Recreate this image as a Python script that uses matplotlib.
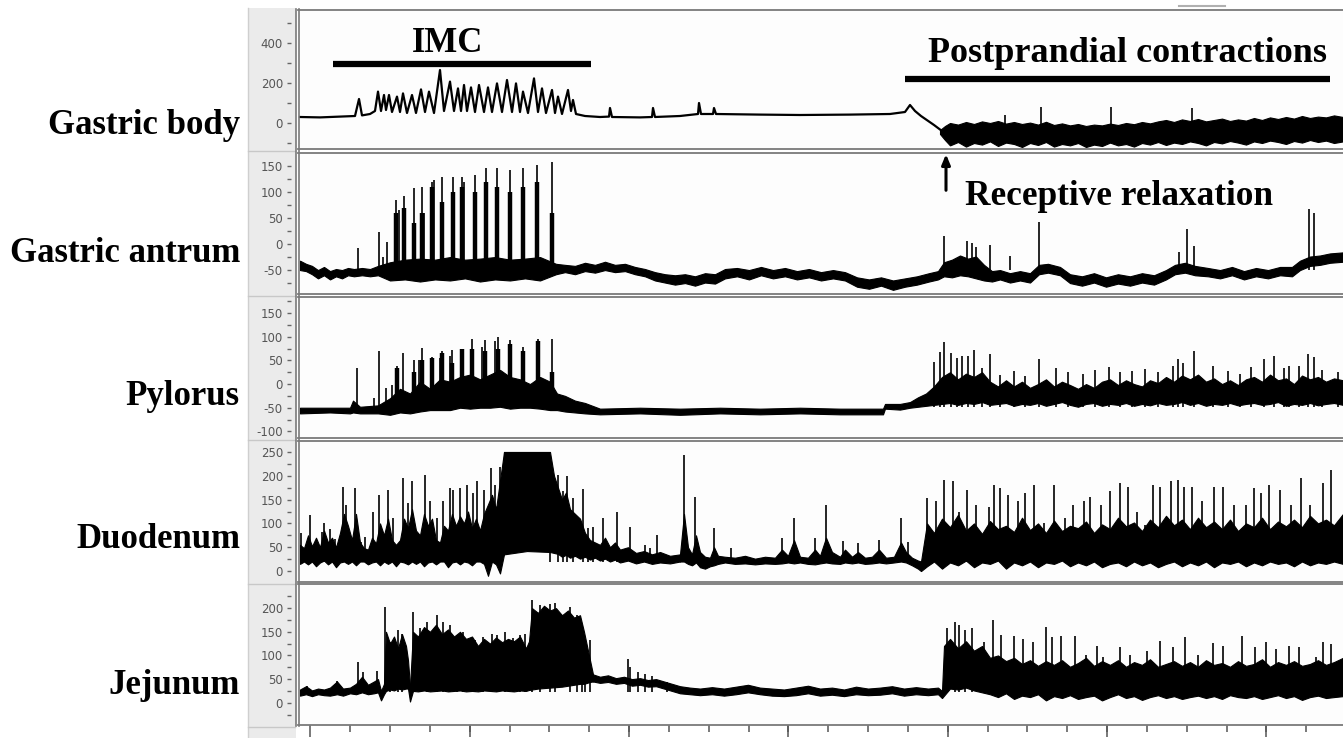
import numpy as np
import matplotlib.pyplot as plt
from matplotlib.lines import Line2D
from matplotlib.patches import Rectangle

plt.rcParams['font.family'] = 'DejaVu Sans'
plt.rcParams['axes.unicode_minus'] = False

W, H = 1343, 738

# ---------------- data (time in samples, amplitude in recorded units) ----------------
# Gastric body: IMC slow waves as a trace, postprandial activity as a noisy band
body_t = [300, 320, 340, 355, 359, 362, 370, 375, 378, 381, 384, 386, 389, 392, 397, 400, 403, 407, 412, 416,
          421, 425, 429, 434, 440, 444, 450, 454, 458, 461, 464, 467, 471, 475, 479, 484, 488, 492, 497, 502,
          507, 512, 516, 520, 523, 528, 534, 538, 542, 546, 552, 555, 558, 562, 568, 571, 573, 576, 585, 600,
          609, 610, 612, 640, 652, 653, 655, 680, 698, 699, 701, 713, 714, 716, 760, 800, 850, 890, 905, 910,
          915, 921, 934, 942]
body_v = [30, 28, 32, 35, 120, 38, 45, 60, 157, 60, 140, 65, 140, 55, 132, 55, 148, 50, 140, 50,
          168, 55, 157, 50, 265, 60, 207, 60, 173, 60, 190, 60, 178, 55, 190, 55, 178, 55, 198, 55,
          215, 55, 198, 55, 157, 50, 223, 55, 173, 50, 165, 50, 132, 45, 165, 60, 115, 45, 35, 30,
          32, 75, 30, 28, 30, 75, 30, 35, 45, 100, 45, 45, 75, 45, 42, 40, 42, 45, 55, 90,
          60, 35, -10, -40]
body_band_t = [940, 945, 950, 958, 966, 974, 982, 990, 998, 1006, 1014, 1022, 1030, 1038, 1046, 1054, 1062, 1070,
               1078, 1086, 1094, 1102, 1110, 1118, 1126, 1134, 1142, 1150, 1158, 1166, 1174, 1182, 1190, 1198, 1206,
               1214, 1222, 1230, 1238, 1246, 1254, 1262, 1270, 1278, 1286, 1294, 1302, 1310, 1318, 1326, 1334, 1343]
body_band_hi = [-35, -15, 0, -8, 5, -5, 8, 0, 10, -3, 5, -5, 2, -8, 6, -10, -2, -12,
                -5, -15, -8, -12, -3, -10, 0, -6, 5, -2, 8, 15, 5, 18, 10, 20, 8,
                15, 22, 10, 18, 12, 25, 15, 28, 20, 30, 22, 35, 25, 32, 28, 38, 30]
body_band_lo = [-55, -85, -112, -95, -118, -100, -108, -92, -115, -98, -105, -120, -100, -110, -95, -118, -105, -112,
                -100, -120, -108, -115, -98, -112, -105, -118, -100, -108, -95, -110, -98, -105, -92, -100, -112,
                -95, -102, -90, -98, -108, -92, -100, -88, -95, -105, -90, -98, -85, -95, -88, -100, -92]
body_spk_t = [1005, 1041, 1111, 1192]
body_spk_top = [40, 80, 80, 75]

# Gastric antrum
antrum_band_t = [300, 306, 312, 318, 324, 330, 336, 342, 348, 354, 362, 370, 378, 390, 405, 420, 435, 450, 465, 480,
                 495, 510, 525, 540, 556, 565, 575, 585, 595, 605, 615, 625, 635, 645, 655, 665, 675, 685, 695, 705,
                 715, 725, 737, 749, 761, 773, 785, 797, 809, 821, 833, 845, 857, 869, 881, 893, 905, 917, 929, 938,
                 944, 952, 960, 968, 976, 984, 992, 1000, 1010, 1020, 1030, 1039, 1048, 1060, 1070, 1082, 1094, 1106,
                 1118, 1130, 1142, 1154, 1166, 1175, 1185, 1195, 1208, 1220, 1232, 1244, 1256, 1268, 1280, 1292, 1300,
                 1310, 1320, 1330, 1343]
antrum_band_lo = [-50, -52, -58, -66, -60, -68, -62, -66, -60, -62, -60, -62, -60, -70, -68, -72, -68, -70, -66, -72,
                  -68, -70, -66, -70, -58, -54, -58, -52, -55, -50, -54, -52, -58, -62, -70, -74, -78, -75, -80, -74,
                  -76, -66, -62, -68, -60, -66, -62, -68, -64, -70, -66, -70, -82, -86, -80, -88, -82, -78, -72, -68,
                  -62, -64, -60, -62, -66, -70, -72, -68, -74, -70, -74, -58, -55, -60, -75, -80, -74, -82,
                  -76, -80, -74, -78, -68, -58, -55, -60, -62, -66, -60, -68, -62, -66, -60, -62, -50,
                  -42, -40, -36, -34]
antrum_band_hi = [-32, -38, -42, -50, -44, -52, -48, -50, -46, -48, -46, -48, -42, -35, -30, -28, -30, -25, -30, -28,
                  -25, -30, -28, -25, -38, -40, -42, -36, -40, -34, -40, -38, -44, -48, -54, -58, -60, -58, -62, -56,
                  -58, -48, -46, -50, -44, -50, -46, -52, -48, -54, -50, -54, -64, -68, -64, -70, -66, -62, -56, -52,
                  -35, -30, -22, -28, -24, -40, -52, -50, -56, -52, -56, -40, -38, -44, -58, -62, -56, -64,
                  -58, -62, -56, -60, -50, -40, -36, -42, -46, -50, -44, -52, -46, -50, -44, -44, -32,
                  -24, -22, -18, -16]
antrum_spk_t = [358, 379, 383, 387, 396, 399, 404, 414, 422, 424, 432, 434, 442, 453, 462, 464, 475, 486, 497, 510,
                523, 537, 552, 944, 967, 972, 976, 990, 1010, 1039, 1179, 1187, 1194, 1309, 1314]
antrum_spk_top = [-8, 24, -24, 3, 85, 66, 93, 107, 110, 60, 120, 124, 128, 128, 128, 120, 133, 146, 146, 142,
                  146, 152, 158, 15, 5, 2, -5, -2, -23, 43, -16, 28, -4, 67, 59]
antrum_burst_t = [396, 404, 414, 422, 432, 442, 453, 462, 475, 486, 497, 510, 523, 537, 552]
antrum_burst_top = [60, 70, 40, 60, 110, 80, 100, 110, 100, 120, 110, 100, 110, 120, 60]

# Pylorus
pyl_band_t = [300, 330, 350, 353, 360, 378, 390, 400, 410, 420, 430, 440, 450, 460, 470, 480, 490, 500, 510, 520,
              530, 540, 550, 557, 565, 575, 585, 600, 640, 680, 720, 760, 800, 840, 883, 885, 900, 910, 918, 926,
              934, 942, 950, 958, 966, 974, 982, 990, 998, 1006, 1014, 1022, 1030, 1038, 1046, 1054, 1062, 1070, 1078,
              1086, 1094, 1102, 1110, 1118, 1126, 1134, 1142, 1150, 1158, 1166, 1174, 1182, 1190, 1198, 1206, 1214,
              1222, 1230, 1238, 1246, 1254, 1262, 1270, 1278, 1286, 1294, 1302, 1310, 1318, 1326, 1334, 1343]
pyl_band_lo = [-62, -60, -62, -60, -62, -62, -65, -60, -62, -58, -55, -55, -55, -50, -52, -50, -50, -48, -52, -50,
               -50, -52, -55, -55, -58, -60, -62, -64, -62, -65, -62, -64, -62, -64, -64, -52, -54, -50, -48, -46,
               -44, -42, -40, -44, -40, -42, -38, -44, -42, -40, -46, -42, -44, -40, -46, -42, -38, -44, -48,
               -42, -40, -46, -42, -44, -40, -46, -42, -45, -40, -44, -42, -38, -44, -40, -46, -42,
               -44, -40, -45, -42, -40, -44, -42, -38, -46, -42, -44, -40, -45, -42, -40, -44]
pyl_band_hi = [-50, -50, -50, -35, -48, -45, -30, -10, -20, 5, -10, 10, 5, 15, 20, 10, 20, 30, 15, 10,
               0, 15, 5, -20, -25, -35, -40, -52, -50, -52, -50, -52, -50, -52, -52, -42, -42, -38, -28, -20,
               -5, 15, 25, 10, 22, 15, 25, 5, -5, 8, -5, 5, -8, 0, 10, -5, 5, -2, -10,
               0, -8, 5, 10, -2, 8, 0, -5, 8, 2, 15, 5, 18, 10, 20, 5, 12,
               0, 8, -2, 10, 15, 5, 20, 8, 12, 0, 18, 10, 15, 5, 12, 8]
pyl_spk_t = [357, 374, 379, 386, 392, 397, 403, 414, 419, 422, 432, 440, 442, 450, 452, 462, 472, 482, 485, 495,
             498, 510, 523, 538, 552, 934, 940, 944, 951, 957, 962, 968, 974, 982, 990, 1000, 1014, 1025, 1039, 1056,
             1068, 1083, 1095, 1109, 1120, 1132, 1145, 1158, 1173, 1178, 1183, 1194, 1213, 1228, 1240, 1251, 1264,
             1274, 1284, 1289, 1299, 1308, 1314, 1322, 1338]
pyl_spk_top = [33, -29, 69, -9, -1, 39, 65, 51, 50, 77, 58, 55, 69, 60, 72, 75, 95, 79, 93, 90,
               100, 93, 79, 96, 96, 46, 67, 88, 66, 56, 59, 60, 72, 33, 64, 20, 28, 18, 54, 34,
               25, 22, 30, 36, 25, 28, 32, 25, 38, 54, 45, 69, 39, 28, 22, 36, 54,
               60, 35, 39, 39, 64, 57, 30, 25]
pyl_burst_t = [397, 414, 422, 432, 442, 452, 462, 472, 485, 498, 510, 523, 538, 552]
pyl_burst_top = [35, 25, 50, 55, 65, 45, 75, 75, 70, 75, 85, 70, 90, 25]

# Duodenum: IMC bursts, saturated phase, quiet phase, postprandial phase
duo_imc_t = [300, 304, 308, 312, 316, 320, 324, 328, 332, 336, 340, 344, 348, 352, 356, 360, 364, 368, 372, 376,
             380, 384, 388, 392, 396, 400, 404, 408, 412, 416, 420, 424, 428, 432, 436, 440, 444, 448, 452, 456,
             460, 464, 468, 472, 476, 480, 484, 488, 492, 496, 500, 504]
duo_imc_hi = [55, 48, 75, 52, 70, 50, 85, 60, 70, 50, 80, 120, 95, 65, 120, 60, 48, 45, 70, 58,
              100, 75, 110, 65, 55, 65, 110, 90, 130, 85, 75, 120, 95, 110, 65, 60, 95, 85, 120, 95,
              115, 100, 125, 90, 110, 85, 120, 140, 160, 130, 190, 250]
duo_imc_lo = [15, 20, 14, 20, 10, 18, 22, 14, 20, 8, 18, 20, 15, 20, 12, 20, 20, 14, 18, 20,
              12, 20, 15, 20, 10, 20, 18, 14, 20, 15, 20, 10, 18, 20, 14, 20, 20, 8, 18, 20,
              14, 20, 18, 12, 20, 20, 15, -10, 20, 14, -5, 35]
duo_sat_t = [504, 527, 550, 554, 558, 562, 566, 570, 575, 580, 585, 590, 595, 600, 605, 610, 615, 620, 628, 636,
             644, 652, 660, 670, 680]
duo_sat_hi = [250, 250, 250, 200, 175, 150, 165, 130, 120, 110, 80, 65, 60, 55, 70, 50, 60, 45, 50, 38,
              42, 35, 40, 32, 35]
duo_sat_lo = [35, 42, 40, 38, 36, 30, 34, 28, 32, 26, 30, 24, 28, 22, 26, 20, 24, 18, 22, 16,
              20, 15, 18, 16, 20]
duo_quiet_t = [680, 684, 688, 692, 696, 700, 705, 710, 714, 718, 725, 735, 745, 755, 765, 775, 782, 788, 794, 800,
               808, 815, 820, 826, 832, 840, 845, 852, 858, 865, 872, 879, 886, 894, 901, 906, 912, 918, 921]
duo_quiet_hi = [35, 120, 50, 35, 75, 40, 30, 28, 50, 32, 30, 28, 32, 26, 30, 28, 45, 32, 65, 30,
                28, 45, 32, 70, 40, 30, 45, 30, 40, 28, 30, 45, 28, 30, 60, 40, 28, 22, 20]
duo_quiet_lo = [20, 20, 15, 12, 18, 8, 5, 10, 12, 15, 18, 15, 16, 14, 16, 15, 16, 18, 16, 18,
                15, 14, 16, 18, 16, 15, 18, 16, 18, 15, 16, 18, 16, 18, 20, 18, 12, 5, 0]
duo_post_t = [921, 927, 934, 942, 950, 958, 966, 974, 982, 990, 998, 1006, 1014, 1022, 1030, 1038, 1046, 1054, 1062,
              1070, 1078, 1086, 1094, 1102, 1110, 1118, 1126, 1134, 1142, 1150, 1158, 1166, 1174, 1182, 1190, 1198,
              1206, 1214, 1222, 1230, 1238, 1246, 1254, 1262, 1270, 1278, 1286, 1294, 1302, 1310, 1318, 1326, 1334,
              1343]
duo_post_hi = [20, 100, 80, 110, 92, 118, 85, 100, 78, 105, 88, 95, 82, 112, 86, 100, 80, 106, 84,
               95, 90, 104, 80, 98, 88, 112, 94, 102, 84, 108, 92, 116, 96, 108, 88, 112,
               92, 104, 88, 108, 84, 100, 92, 112, 88, 104, 94, 108, 92, 116, 100, 108, 96,
               120]
duo_post_lo = [0, 10, 20, 5, 18, 12, 22, 8, 18, 15, 22, 5, 18, 12, 20, 8, 18, 15, 22,
               10, 18, 12, 20, 8, 15, 18, 10, 20, 12, 18, 8, 15, 20, 10, 18, 12,
               20, 8, 18, 15, 20, 10, 18, 12, 20, 15, 18, 10, 20, 12, 18, 15, 20,
               15]
duo_spk_t = [301, 310, 318, 322, 324, 330, 335, 342, 343, 346, 355, 361, 365, 373, 379, 388, 393, 403, 408, 412,
             425, 430, 437, 443, 450, 453, 460, 467, 473, 477, 484, 491, 495, 500, 550, 558, 563, 567, 573, 583,
             588, 593, 603, 617, 630, 645, 650, 657, 684, 695, 714, 731, 782, 794, 815, 826, 843, 858, 879, 901,
             908, 927, 936, 944, 953, 959, 967, 976, 989, 994, 1000, 1008, 1018, 1025, 1034, 1044, 1054, 1065, 1073, 1084,
             1090, 1101, 1110, 1120, 1128, 1137, 1145, 1153, 1160, 1171, 1178, 1184, 1192, 1202, 1214, 1223, 1234, 1246,
             1254, 1261, 1269, 1280, 1291, 1301, 1310, 1323, 1331]
duo_spk_top = [79, 118, 55, 83, 100, 89, 68, 86, 177, 139, 174, 61, 72, 125, 160, 170, 111, 195, 142, 188,
               202, 146, 111, 146, 175, 170, 174, 180, 163, 190, 170, 216, 180, 219, 222, 202, 167, 199, 153, 173,
               90, 93, 111, 125, 93, 55, 48, 76, 244, 156, 90, 48, 69, 111, 69, 139, 63, 58, 65, 111,
               62, 153, 146, 191, 188, 125, 170, 139, 135, 180, 174, 160, 146, 163, 180, 100, 180, 111, 139, 146,
               156, 139, 167, 184, 177, 125, 97, 180, 177, 188, 191, 177, 177, 146, 177, 177, 139, 139,
               174, 163, 180, 170, 139, 195, 139, 184, 212]

# Jejunum: early bursts, IMC block, quiet phase, postprandial phase
jej_early_t = [300, 306, 312, 318, 324, 330, 337, 343, 350, 356, 362, 368, 374, 378, 381, 384, 386, 390, 394, 398,
               402, 406, 408, 410]
jej_early_hi = [28, 35, 26, 30, 28, 32, 45, 30, 32, 40, 55, 38, 45, 50, 25, 40, 150, 125, 140, 115,
                145, 120, 90, 35]
jej_early_lo = [15, 18, 14, 18, 16, 15, 18, 15, 20, 18, 22, 18, 20, 22, 5, 18, 25, 28, 26, 30,
                28, 30, 30, 3]
jej_imc_t = [410, 413, 418, 424, 430, 436, 442, 448, 454, 460, 466, 472, 478, 484, 490, 496, 502, 508, 514, 520,
             526, 529, 532, 538, 544, 550, 556, 562, 568, 574, 580, 584, 587, 590, 593]
jej_imc_hi = [35, 150, 140, 160, 150, 165, 145, 155, 140, 150, 135, 140, 120, 135, 125, 138, 128, 135, 130, 140,
              115, 130, 200, 190, 205, 195, 200, 185, 195, 180, 185, 150, 120, 90, 60]
jej_imc_lo = [3, 25, 24, 26, 24, 25, 26, 24, 25, 26, 24, 25, 24, 26, 25, 24, 26, 25, 24, 26,
              25, 27, 28, 30, 31, 32, 33, 34, 36, 38, 40, 40, 42, 44, 45]
jej_quiet_t = [593, 600, 608, 616, 624, 632, 640, 648, 656, 664, 672, 680, 690, 700, 712, 724, 736, 748, 760, 772,
               784, 796, 808, 820, 832, 844, 856, 868, 880, 892, 904, 916, 928, 938, 942]
jej_quiet_hi = [60, 55, 58, 52, 55, 50, 52, 48, 50, 45, 40, 35, 32, 30, 33, 30, 34, 38, 32, 30,
                28, 32, 36, 30, 32, 28, 34, 30, 32, 35, 30, 33, 30, 32, 25]
jej_quiet_lo = [45, 42, 44, 40, 42, 36, 38, 34, 35, 30, 25, 20, 18, 16, 18, 15, 18, 22, 18, 15,
                14, 16, 20, 15, 17, 14, 18, 16, 17, 20, 15, 18, 16, 18, 10]
jej_post_t = [942, 944, 950, 958, 966, 974, 982, 990, 998, 1006, 1014, 1022, 1030, 1038, 1046, 1054, 1062, 1070, 1078,
              1086, 1094, 1102, 1110, 1118, 1126, 1134, 1142, 1150, 1158, 1166, 1174, 1182, 1190, 1198, 1206, 1214,
              1222, 1230, 1238, 1246, 1254, 1262, 1270, 1278, 1286, 1294, 1302, 1310, 1318, 1326, 1334, 1343]
jej_post_hi = [25, 120, 135, 115, 130, 110, 120, 95, 100, 88, 95, 82, 90, 78, 88, 80, 90, 76, 84,
               95, 78, 88, 80, 90, 76, 86, 80, 92, 76, 82, 88, 78, 86, 76, 90, 80,
               84, 76, 88, 78, 82, 92, 76, 86, 80, 88, 78, 82, 90, 80, 86, 95]
jej_post_lo = [10, 15, 30, 28, 32, 26, 22, 18, 12, 20, 8, 15, 12, 18, 5, 14, 10, 16, 8,
               12, 15, 5, 12, 18, 10, 14, 6, 12, 16, 10, 14, 8, 12, 15, 10, 14,
               8, 16, 12, 10, 14, 8, 12, 16, 10, 14, 6, 12, 15, 10, 12, 14]
jej_spk_t = [307, 337, 358, 363, 377, 385, 390, 398, 402, 413, 420, 427, 437, 443, 450, 457, 463, 475, 483, 492,
             497, 505, 513, 520, 525, 532, 540, 550, 555, 570, 577, 582, 585, 590, 628, 630, 638, 645, 652, 667,
             947, 955, 959, 965, 972, 984, 993, 1001, 1014, 1023, 1033, 1046, 1052, 1061, 1075, 1086, 1097, 1103, 1120,
             1130, 1147, 1160, 1173, 1185, 1198, 1213, 1223, 1242, 1255, 1266, 1276, 1289, 1299, 1316, 1323, 1331]
jej_spk_top = [36, 46, 86, 64, 68, 203, 129, 154, 146, 192, 157, 171, 185, 171, 164, 143, 150, 132, 139, 146,
               143, 150, 136, 143, 146, 217, 206, 208, 210, 203, 185, 164, 130, 132, 93, 75, 64, 61, 57, 43,
               157, 171, 164, 153, 157, 128, 175, 143, 142, 135, 128, 160, 139, 142, 142, 100, 121, 96, 118,
               100, 110, 130, 118, 139, 100, 126, 121, 142, 118, 128, 114, 121, 118, 96, 128, 125]

# ---------------- layout ----------------
# name, top px, bottom px, ylim, labelled ticks, minor ticks, label baseline px
panels = [
    ("Gastric body", 10, 149, (-130, 565), [0, 200, 400], [-100, 100, 300, 500], 134),
    ("Gastric antrum", 153, 294, (-96, 175), [-50, 0, 50, 100, 150], [-75, -25, 25, 75, 125], 262),
    ("Pylorus", 297, 438, (-114, 184), [-100, -50, 0, 50, 100, 150], [-75, -25, 25, 75, 125, 175], 405),
    ("Duodenum", 441, 582, (-23, 273), [0, 50, 100, 150, 200, 250], [25, 75, 125, 175, 225], 548),
    ("Jejunum", 584, 725, (-47, 251), [0, 50, 100, 150, 200], [-25, 25, 75, 125, 175, 225], 694),
]
x0_px, x1_px = 298, 1343
frame = '#7a7a7a'

fig = plt.figure(figsize=(W / 100, H / 100), dpi=100)

# grey label strip on the left of the traces
fig.add_artist(Rectangle((248 / W, 0), (296 - 248) / W, 1 - 8 / H, transform=fig.transFigure,
                         facecolor='#ebebeb', edgecolor='none', zorder=0))
fig.add_artist(Line2D([248 / W, 248 / W], [0, 1 - 8 / H], transform=fig.transFigure, color='#cfcfcf', lw=1))

axes = []
for name, top, bot, ylim, major, minor, lab_y in panels:
    ax = fig.add_axes([x0_px / W, 1 - bot / H, (x1_px - x0_px) / W, (bot - top) / H])
    ax.set_facecolor('#fdfdfd')
    ax.set_xlim(x0_px, x1_px)
    ax.set_ylim(*ylim)
    ax.spines['right'].set_visible(False)
    ax.spines['left'].set_position(('outward', 5.4))
    ax.spines['left'].set_visible(False)
    for s in ('top', 'bottom'):
        ax.spines[s].set_color(frame)
        ax.spines[s].set_linewidth(1.3)
    ax.set_yticks(major)
    ax.set_yticks(minor, minor=True)
    ax.tick_params(axis='y', which='both', direction='out', length=3.2, width=1, color='#666666',
                   labelsize=8.5, labelcolor='#555555', pad=2.2)
    ax.set_xticks([])
    fig.text(240 / W, 1 - lab_y / H, name, ha='right', va='baseline', fontsize=25,
             family='Liberation Serif', weight='bold')
    fig.add_artist(Line2D([248 / W, 295 / W], [1 - (bot + 1.5) / H] * 2, transform=fig.transFigure,
                          color='#c8c8c8', lw=1))
    axes.append(ax)

ax_body, ax_antrum, ax_pyl, ax_duo, ax_jej = axes

# x axis ticks below the last trace
tick_major = 310.5 + 159.3 * np.arange(7)
tick_minor = 310.5 + 39.83 * np.arange(26)
ax_jej.set_xticks(tick_major)
ax_jej.set_xticks(tick_minor, minor=True)
ax_jej.tick_params(axis='x', which='major', direction='out', length=8.5, width=1.1, color='#555555',
                   labelbottom=False)
ax_jej.tick_params(axis='x', which='minor', direction='out', length=5, width=1.1, color='#555555')

# double left border
for xb in (295.5, 298.5):
    fig.add_artist(Line2D([xb / W, xb / W], [1 - 726 / H, 1 - 9 / H], transform=fig.transFigure,
                          color=frame, lw=1.2))
fig.add_artist(Line2D([1179 / W, 1225 / W], [1 - 6 / H] * 2, transform=fig.transFigure, color='#b0b0b0', lw=1.5))


def band(ax, t, lo, hi):
    ax.fill_between(t, lo, hi, color='black', lw=0.8, edgecolor='black')


def spikes(ax, t, top, base, lw=1.2):
    ax.vlines(t, base, top, color='black', lw=lw)


# traces
ax_body.plot(body_t, body_v, color='black', lw=1.6)
band(ax_body, body_band_t, body_band_lo, body_band_hi)
spikes(ax_body, body_spk_t, body_spk_top, -20)

band(ax_antrum, antrum_band_t, antrum_band_lo, antrum_band_hi)
spikes(ax_antrum, antrum_spk_t, antrum_spk_top, -50)
spikes(ax_antrum, antrum_burst_t, antrum_burst_top, -50, lw=3.2)

band(ax_pyl, pyl_band_t, pyl_band_lo, pyl_band_hi)
spikes(ax_pyl, pyl_spk_t, pyl_spk_top, -48)
spikes(ax_pyl, pyl_burst_t, pyl_burst_top, -48, lw=3.2)

band(ax_duo, duo_imc_t, duo_imc_lo, duo_imc_hi)
band(ax_duo, duo_sat_t, duo_sat_lo, duo_sat_hi)
band(ax_duo, duo_quiet_t, duo_quiet_lo, duo_quiet_hi)
band(ax_duo, duo_post_t, duo_post_lo, duo_post_hi)
spikes(ax_duo, duo_spk_t, duo_spk_top, 20)

band(ax_jej, jej_early_t, jej_early_lo, jej_early_hi)
band(ax_jej, jej_imc_t, jej_imc_lo, jej_imc_hi)
band(ax_jej, jej_quiet_t, jej_quiet_lo, jej_quiet_hi)
band(ax_jej, jej_post_t, jej_post_lo, jej_post_hi)
spikes(ax_jej, jej_spk_t, jej_spk_top, 22)

# annotations
serif = dict(family='Liberation Serif', weight='bold')
ax_body.plot([333, 591], [295, 295], color='black', lw=4.5, solid_capstyle='butt')
ax_body.text(448, 355, 'IMC', ha='center', va='baseline', fontsize=25, **serif)
ax_body.plot([905, 1330], [220, 220], color='black', lw=4.5, solid_capstyle='butt')
ax_body.text(1128, 305, 'Postprandial contractions', ha='center', va='baseline', fontsize=26, **serif)
ax_antrum.annotate('', xy=(946, 178), xytext=(946, 98), annotation_clip=False,
                   arrowprops=dict(arrowstyle='-|>,head_length=0.6,head_width=0.25', color='black', lw=2.2))
ax_antrum.text(965, 75, 'Receptive relaxation', ha='left', va='baseline', fontsize=25.4, **serif)

fig.savefig('out.png', dpi=100)
